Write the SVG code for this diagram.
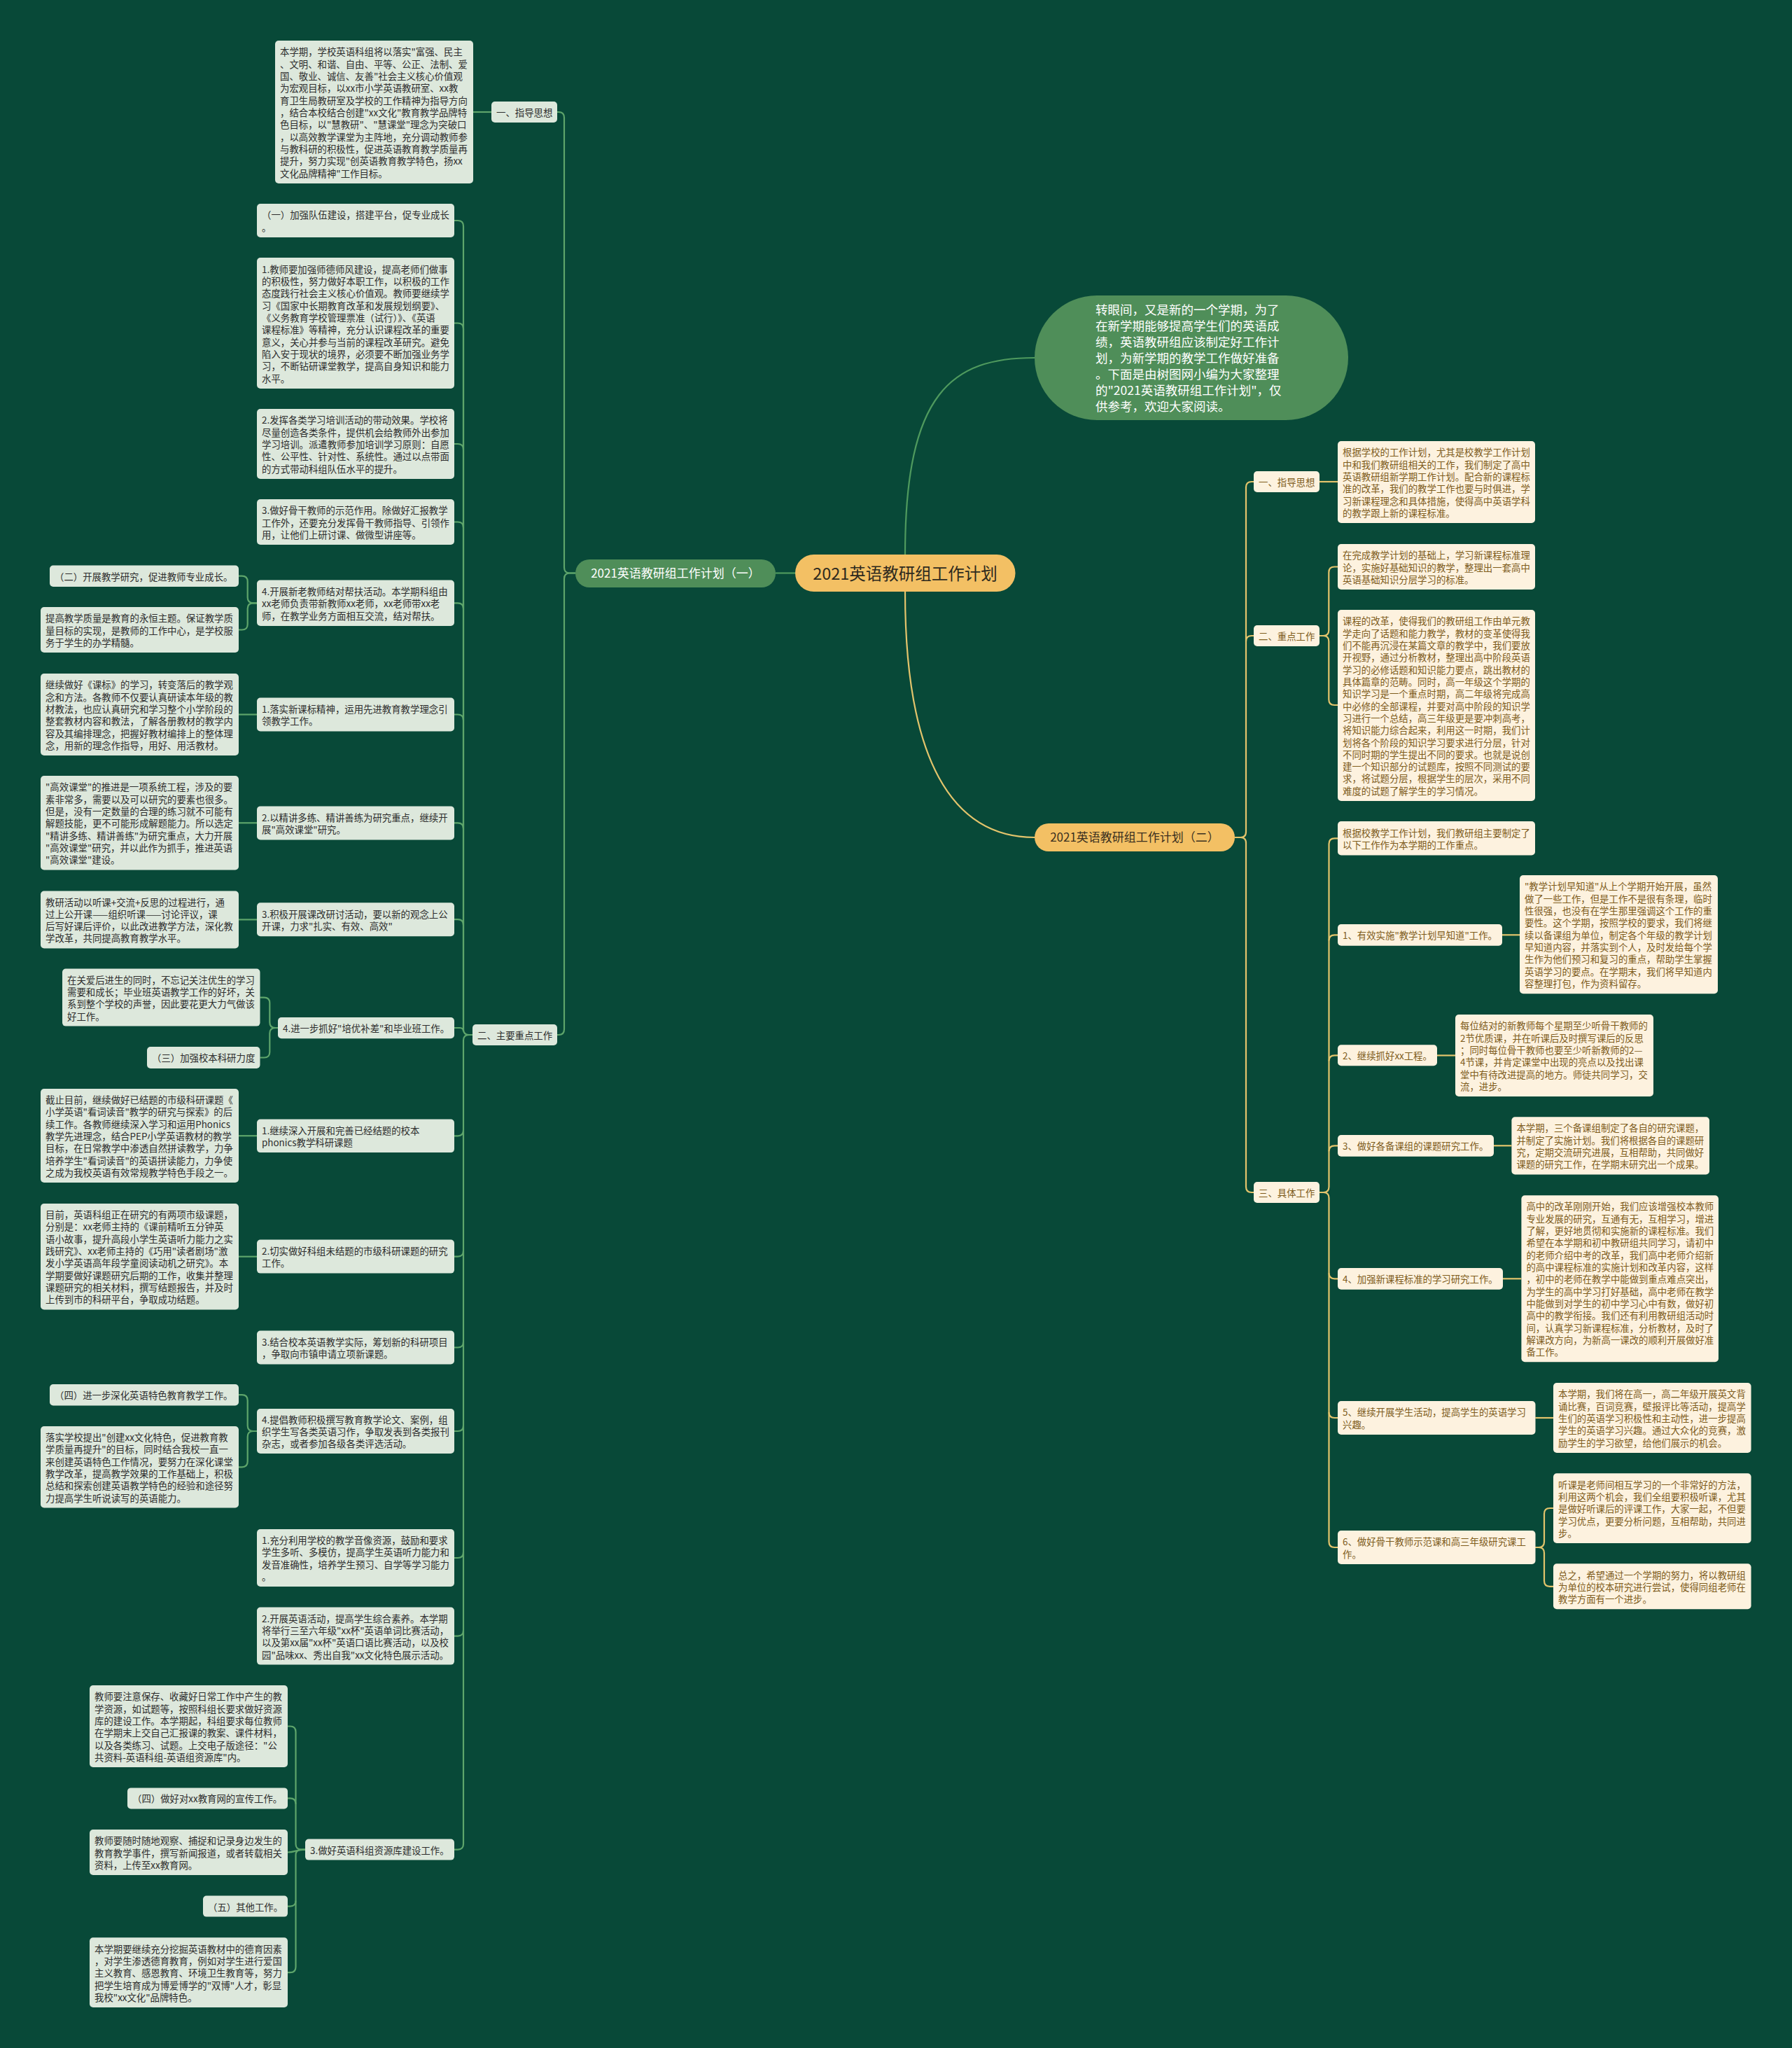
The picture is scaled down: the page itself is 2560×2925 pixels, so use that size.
<svg xmlns="http://www.w3.org/2000/svg" width="2560" height="2925" viewBox="0 0 2560 2925">
<style>
.bg{fill:#084938}
.bl{fill:#dde8dc}
.br{fill:#fdf2df}
text{font-family:"Noto Sans CJK SC","Noto Sans",sans-serif}
.tl{font-size:13.4px;fill:#2d2d2d}
.tr{font-size:13.4px;fill:#7e5c1c}
.cl{fill:none;stroke:#5ea56b;stroke-width:2.2}
.cr{fill:none;stroke:#e3c46c;stroke-width:2.2}
.cg{fill:none;stroke:#4f9a5e;stroke-width:2.2}
</style>
<rect class="bg" x="0" y="0" width="2560" height="2925"/>
<g id="connectors">
<path class="cg" d="M1108 818.5 L1136 818.5"/>
<path class="cg" d="M1293 792 C1293 560 1360 511 1478 511"/>
<path class="cr" d="M1293 845 C1293 1085 1360 1196 1478 1196"/>
<path class="cl" d="M796 160 L798 160 Q806 160 806 168 L806 810.5 Q806 818.5 814 818.5 L822 818.5"/>
<path class="cl" d="M796 1478 L798 1478 Q806 1478 806 1470 L806 826.5 Q806 818.5 814 818.5 L822 818.5"/>
<path class="cl" d="M676 160 L702 160"/>
<path class="cl" d="M649 315 L654 315 Q662 315 662 323 L662 1470 Q662 1478 670 1478 L675 1478"/>
<path class="cl" d="M649 461.5 L654 461.5 Q662 461.5 662 469.5 L662 1470"/>
<path class="cl" d="M649 634 L654 634 Q662 634 662 642"/>
<path class="cl" d="M649 745.5 L654 745.5 Q662 745.5 662 753.5"/>
<path class="cl" d="M649 861.3 L654 861.3 Q662 861.3 662 869.3"/>
<path class="cl" d="M649 1020.5 L654 1020.5 Q662 1020.5 662 1028.5"/>
<path class="cl" d="M649 1175.4 L654 1175.4 Q662 1175.4 662 1183.4"/>
<path class="cl" d="M649 1313.2 L654 1313.2 Q662 1313.2 662 1321.2"/>
<path class="cl" d="M649 1468 L657 1468 Q662 1468 662 1473"/>
<path class="cl" d="M649 2641.6 L654 2641.6 Q662 2641.6 662 2633.6 L662 1486 Q662 1478 670 1478 L675 1478"/>
<path class="cl" d="M649 1622.3 L654 1622.3 Q662 1622.3 662 1614.3"/>
<path class="cl" d="M649 1794.6 L654 1794.6 Q662 1794.6 662 1786.6"/>
<path class="cl" d="M649 1924.5 L654 1924.5 Q662 1924.5 662 1916.5"/>
<path class="cl" d="M649 2044 L654 2044 Q662 2044 662 2036"/>
<path class="cl" d="M649 2225 L654 2225 Q662 2225 662 2217"/>
<path class="cl" d="M649 2336.6 L654 2336.6 Q662 2336.6 662 2328.6"/>
<path class="cl" d="M341 822.7 L345.7 822.7 Q353.7 822.7 353.7 830.7 L353.7 853.3 Q353.7 861.3 361.7 861.3 L367 861.3"/>
<path class="cl" d="M341 899.5 L345.7 899.5 Q353.7 899.5 353.7 891.5 L353.7 869.3 Q353.7 861.3 361.7 861.3 L367 861.3"/>
<path class="cl" d="M341 1020.5 L367 1020.5"/>
<path class="cl" d="M341 1175.3 L367 1175.3"/>
<path class="cl" d="M341 1313.4 L367 1313.4"/>
<path class="cl" d="M341 1622.2 L367 1622.2"/>
<path class="cl" d="M341 1794.7 L367 1794.7"/>
<path class="cl" d="M371.5 1424.6 L377.3 1424.6 Q385.3 1424.6 385.3 1432.6 L385.3 1460 Q385.3 1468 393.3 1468 L397 1468"/>
<path class="cl" d="M371.5 1510.5 L377.3 1510.5 Q385.3 1510.5 385.3 1502.5 L385.3 1476 Q385.3 1468 393.3 1468 L397 1468"/>
<path class="cl" d="M341 1992.2 L345.7 1992.2 Q353.7 1992.2 353.7 2000.2 L353.7 2036 Q353.7 2044 361.7 2044 L367 2044"/>
<path class="cl" d="M341 2095.3 L345.7 2095.3 Q353.7 2095.3 353.7 2087.3 L353.7 2052 Q353.7 2044 361.7 2044 L367 2044"/>
<path class="cl" d="M411 2465.5 L414.5 2465.5 Q422.5 2465.5 422.5 2473.5 L422.5 2633.6 Q422.5 2641.6 430.5 2641.6 L436 2641.6"/>
<path class="cl" d="M411 2568.4 L414.5 2568.4 Q422.5 2568.4 422.5 2576.4"/>
<path class="cl" d="M411 2645.5 C422.5 2645.5 422.5 2641.6 436 2641.6"/>
<path class="cl" d="M411 2722.6 L414.5 2722.6 Q422.5 2722.6 422.5 2714.6"/>
<path class="cl" d="M411 2817.2 L414.5 2817.2 Q422.5 2817.2 422.5 2809.2 L422.5 2649.6 Q422.5 2641.6 430.5 2641.6 L436 2641.6"/>
<path class="cr" d="M1764 1196 L1772 1196 Q1780 1196 1780 1188 L1780 696 Q1780 688 1788 688 L1791 688"/>
<path class="cr" d="M1780 916 Q1780 908 1788 908 L1791 908"/>
<path class="cr" d="M1764 1196 L1772 1196 Q1780 1196 1780 1204 L1780 1695 Q1780 1703 1788 1703 L1791 1703"/>
<path class="cr" d="M1885 688 L1911 688"/>
<path class="cr" d="M1885 908 L1890.3 908 Q1898.3 908 1898.3 900 L1898.3 817.5 Q1898.3 809.5 1906.3 809.5 L1911 809.5"/>
<path class="cr" d="M1885 908 L1890.3 908 Q1898.3 908 1898.3 916 L1898.3 999 Q1898.3 1007 1906.3 1007 L1911 1007"/>
<path class="cr" d="M1885 1703 L1890.5 1703 Q1898.5 1703 1898.5 1695 L1898.5 1205.3 Q1898.5 1197.3 1906.5 1197.3 L1911 1197.3"/>
<path class="cr" d="M1898.5 1343.3 Q1898.5 1335.3 1906.5 1335.3 L1911 1335.3"/>
<path class="cr" d="M1898.5 1515.3 Q1898.5 1507.3 1906.5 1507.3 L1911 1507.3"/>
<path class="cr" d="M1898.5 1644.3 Q1898.5 1636.3 1906.5 1636.3 L1911 1636.3"/>
<path class="cr" d="M1885 1703 L1890.5 1703 Q1898.5 1703 1898.5 1711 L1898.5 2202 Q1898.5 2210 1906.5 2210 L1911 2210"/>
<path class="cr" d="M1898.5 1818.3 Q1898.5 1826.3 1906.5 1826.3 L1911 1826.3"/>
<path class="cr" d="M1898.5 2017 Q1898.5 2025 1906.5 2025 L1911 2025"/>
<path class="cr" d="M2146 1335.3 L2171 1335.3"/>
<path class="cr" d="M2053 1507.4 L2079 1507.4"/>
<path class="cr" d="M2134 1636.3 L2159.4 1636.3"/>
<path class="cr" d="M2147 1826.3 L2173.4 1826.3"/>
<path class="cr" d="M2193.4 2025 L2219 2025"/>
<path class="cr" d="M2193.4 2210 L2198 2210 Q2206 2210 2206 2202 L2206 2162 Q2206 2154 2214 2154 L2219 2154"/>
<path class="cr" d="M2193.4 2210 L2198 2210 Q2206 2210 2206 2218 L2206 2257.8 Q2206 2265.8 2214 2265.8 L2219 2265.8"/>
</g>
<g id="root">
<rect x="1136" y="792" width="314.5" height="53" rx="26.5" fill="#f3c064"/>
<text x="1293" y="828" text-anchor="middle" font-size="23.5" fill="#2e2a1e">2021英语教研组工作计划</text>
</g>
<g id="intro">
<rect x="1478" y="422" width="448" height="178" rx="89" fill="#4f8e59"/>
<text font-size="17.5" fill="#ffffff"><tspan x="1565" y="449.4">转眼间，又是新的一个学期，为了</tspan><tspan x="1565" dy="23">在新学期能够提高学生们的英语成</tspan><tspan x="1565" dy="23">绩，英语教研组应该制定好工作计</tspan><tspan x="1565" dy="23">划，为新学期的教学工作做好准备</tspan><tspan x="1565" dy="23">。下面是由树图网小编为大家整理</tspan><tspan x="1565" dy="23">的"2021英语教研组工作计划"，仅</tspan><tspan x="1565" dy="23">供参考，欢迎大家阅读。</tspan></text>
</g>
<g id="plan1">
<rect x="822" y="799" width="286" height="40" rx="20" fill="#4f8e59"/>
<text x="965" y="825" text-anchor="middle" font-size="17" fill="#ffffff">2021英语教研组工作计划（一）</text>
</g>
<g id="plan2">
<rect x="1478" y="1176" width="286" height="40" rx="20" fill="#f3c064"/>
<text x="1621" y="1202" text-anchor="middle" font-size="17" fill="#3b3020">2021英语教研组工作计划（二）</text>
</g>
<g id="l-guide-label"><rect class="bl" x="702" y="145" width="94" height="30" rx="5"/><text class="tl" x="709" y="165.5">一、指导思想</text></g>
<g id="l-guide-text"><rect class="bl" x="393" y="58" width="283" height="204" rx="5"/><text class="tl"><tspan x="400" y="79.4">本学期，学校英语科组将以落实"富强、民主</tspan><tspan x="400" dy="17.33">、文明、和谐、自由、平等、公正、法制、爱</tspan><tspan x="400" dy="17.33">国、敬业、诚信、友善"社会主义核心价值观</tspan><tspan x="400" dy="17.33">为宏观目标，以xx市小学英语教研室、xx教</tspan><tspan x="400" dy="17.33">育卫生局教研室及学校的工作精神为指导方向</tspan><tspan x="400" dy="17.33">，结合本校结合创建"xx文化"教育教学品牌特</tspan><tspan x="400" dy="17.33">色目标，以"慧教研"、"慧课堂"理念为突破口</tspan><tspan x="400" dy="17.33">，以高效教学课堂为主阵地，充分调动教师参</tspan><tspan x="400" dy="17.33">与教科研的积极性，促进英语教育教学质量再</tspan><tspan x="400" dy="17.33">提升，努力实现"创英语教育教学特色，扬xx</tspan><tspan x="400" dy="17.33">文化品牌精神"工作目标。</tspan></text></g>
<g id="l-main-label"><rect class="bl" x="675" y="1463" width="121" height="30" rx="5"/><text class="tl" x="682" y="1483.5">二、主要重点工作</text></g>
<g id="l-a"><rect class="bl" x="367" y="291" width="282" height="48" rx="5"/><text class="tl"><tspan x="374" y="312.4">（一）加强队伍建设，搭建平台，促专业成长</tspan><tspan x="374" dy="17.33">。</tspan></text></g>
<g id="l-b"><rect class="bl" x="367" y="368" width="282" height="187" rx="5"/><text class="tl"><tspan x="374" y="389.6">1.教师要加强师德师风建设，提高老师们做事</tspan><tspan x="374" dy="17.33">的积极性，努力做好本职工作，以积极的工作</tspan><tspan x="374" dy="17.33">态度践行社会主义核心价值观。教师要继续学</tspan><tspan x="374" dy="17.33">习《国家中长期教育改革和发展规划纲要》、</tspan><tspan x="374" dy="17.33">《义务教育学校管理票准（试行）》、《英语</tspan><tspan x="374" dy="17.33">课程标准》等精神，充分认识课程改革的重要</tspan><tspan x="374" dy="17.33">意义，关心并参与当前的课程改革研究。避免</tspan><tspan x="374" dy="17.33">陷入安于现状的境界，必须要不断加强业务学</tspan><tspan x="374" dy="17.33">习，不断钻研课堂教学，提高自身知识和能力</tspan><tspan x="374" dy="17.33">水平。</tspan></text></g>
<g id="l-c"><rect class="bl" x="367" y="584" width="282" height="100" rx="5"/><text class="tl"><tspan x="374" y="605.4">2.发挥各类学习培训活动的带动效果。学校将</tspan><tspan x="374" dy="17.33">尽量创造各类条件，提供机会给教师外出参加</tspan><tspan x="374" dy="17.33">学习培训。派遣教师参加培训学习原则：自愿</tspan><tspan x="374" dy="17.33">性、公平性、针对性、系统性。通过以点带面</tspan><tspan x="374" dy="17.33">的方式带动科组队伍水平的提升。</tspan></text></g>
<g id="l-d"><rect class="bl" x="367" y="713" width="282" height="65" rx="5"/><text class="tl"><tspan x="374" y="734.2">3.做好骨干教师的示范作用。除做好汇报教学</tspan><tspan x="374" dy="17.33">工作外，还要充分发挥骨干教师指导、引领作</tspan><tspan x="374" dy="17.33">用，让他们上研讨课、做微型讲座等。</tspan></text></g>
<g id="l-e"><rect class="bl" x="71" y="807.5" width="270" height="30.5" rx="5"/><text class="tl" x="78" y="828.8">（二）开展教学研究，促进教师专业成长。</text></g>
<g id="l-f"><rect class="bl" x="58" y="867" width="283" height="65" rx="5"/><text class="tl"><tspan x="65" y="888.2">提高教学质量是教育的永恒主题。保证教学质</tspan><tspan x="65" dy="17.33">量目标的实现，是教师的工作中心，是学校服</tspan><tspan x="65" dy="17.33">务于学生的办学精髓。</tspan></text></g>
<g id="l-g"><rect class="bl" x="367" y="828.6" width="282" height="65.4" rx="5"/><text class="tl"><tspan x="374" y="850">4.开展新老教师结对帮扶活动。本学期科组由</tspan><tspan x="374" dy="17.33">xx老师负责带新教师xx老师，xx老师带xx老</tspan><tspan x="374" dy="17.33">师，在教学业务方面相互交流，结对帮扶。</tspan></text></g>
<g id="l-h"><rect class="bl" x="58" y="962" width="283" height="117" rx="5"/><text class="tl"><tspan x="65" y="983.2">继续做好《课标》的学习，转变落后的教学观</tspan><tspan x="65" dy="17.33">念和方法。各教师不仅要认真研读本年级的教</tspan><tspan x="65" dy="17.33">材教法，也应认真研究和学习整个小学阶段的</tspan><tspan x="65" dy="17.33">整套教材内容和教法，了解各册教材的教学内</tspan><tspan x="65" dy="17.33">容及其编排理念，把握好教材编排上的整体理</tspan><tspan x="65" dy="17.33">念，用新的理念作指导，用好、用活教材。</tspan></text></g>
<g id="l-i"><rect class="bl" x="367" y="996.5" width="282" height="48" rx="5"/><text class="tl"><tspan x="374" y="1017.9">1.落实新课标精神，运用先进教育教学理念引</tspan><tspan x="374" dy="17.33">领教学工作。</tspan></text></g>
<g id="l-j"><rect class="bl" x="58" y="1108" width="283" height="134.5" rx="5"/><text class="tl"><tspan x="65" y="1129.3">"高效课堂"的推进是一项系统工程，涉及的要</tspan><tspan x="65" dy="17.33">素非常多，需要以及可以研究的要素也很多。</tspan><tspan x="65" dy="17.33">但是，没有一定数量的合理的练习就不可能有</tspan><tspan x="65" dy="17.33">解题技能，更不可能形成解题能力。所以选定</tspan><tspan x="65" dy="17.33">"精讲多练、精讲善练"为研究重点，大力开展</tspan><tspan x="65" dy="17.33">"高效课堂"研究，并以此作为抓手，推进英语</tspan><tspan x="65" dy="17.33">"高效课堂"建设。</tspan></text></g>
<g id="l-k"><rect class="bl" x="367" y="1151.4" width="282" height="48" rx="5"/><text class="tl"><tspan x="374" y="1172.8">2.以精讲多练、精讲善练为研究重点，继续开</tspan><tspan x="374" dy="17.33">展"高效课堂"研究。</tspan></text></g>
<g id="l-l"><rect class="bl" x="58" y="1272.5" width="283" height="82" rx="5"/><text class="tl"><tspan x="65" y="1293.5">教研活动以听课+交流+反思的过程进行，通</tspan><tspan x="65" dy="17.33">过上公开课——组织听课——讨论评议，课</tspan><tspan x="65" dy="17.33">后写好课后评价，以此改进教学方法，深化教</tspan><tspan x="65" dy="17.33">学改革，共同提高教育教学水平。</tspan></text></g>
<g id="l-m"><rect class="bl" x="367" y="1289.3" width="282" height="48" rx="5"/><text class="tl"><tspan x="374" y="1310.7">3.积极开展课改研讨活动，要以新的观念上公</tspan><tspan x="374" dy="17.33">开课，力求"扎实、有效、高效"</tspan></text></g>
<g id="l-n"><rect class="bl" x="89" y="1383.6" width="282.5" height="82" rx="5"/><text class="tl"><tspan x="96" y="1404.6">在关爱后进生的同时，不忘记关注优生的学习</tspan><tspan x="96" dy="17.33">需要和成长；毕业班英语教学工作的好坏，关</tspan><tspan x="96" dy="17.33">系到整个学校的声誉，因此要花更大力气做该</tspan><tspan x="96" dy="17.33">好工作。</tspan></text></g>
<g id="l-o"><rect class="bl" x="397" y="1453" width="252" height="30.3" rx="5"/><text class="tl" x="404" y="1474.2">4.进一步抓好"培优补差"和毕业班工作。</text></g>
<g id="l-p"><rect class="bl" x="210" y="1495" width="161.5" height="31" rx="5"/><text class="tl" x="217" y="1516.4">（三）加强校本科研力度</text></g>
<g id="l-q"><rect class="bl" x="58" y="1555" width="283" height="134" rx="5"/><text class="tl"><tspan x="65" y="1576">截止目前，继续做好已结题的市级科研课题《</tspan><tspan x="65" dy="17.33">小学英语"看词读音"教学的研究与探索》的后</tspan><tspan x="65" dy="17.33">续工作。各教师继续深入学习和运用Phonics</tspan><tspan x="65" dy="17.33">教学先进理念，结合PEP小学英语教材的教学</tspan><tspan x="65" dy="17.33">目标，在日常教学中渗透自然拼读教学，力争</tspan><tspan x="65" dy="17.33">培养学生"看词读音"的英语拼读能力，力争使</tspan><tspan x="65" dy="17.33">之成为我校英语有效常规教学特色手段之一。</tspan></text></g>
<g id="l-r"><rect class="bl" x="367" y="1598.6" width="282" height="47.5" rx="5"/><text class="tl"><tspan x="374" y="1619.8">1.继续深入开展和完善已经结题的校本</tspan><tspan x="374" dy="17.33">phonics教学科研课题</tspan></text></g>
<g id="l-s"><rect class="bl" x="58" y="1719" width="283" height="151.5" rx="5"/><text class="tl"><tspan x="65" y="1740.1">目前，英语科组正在研究的有两项市级课题，</tspan><tspan x="65" dy="17.33">分别是：xx老师主持的《课前精听五分钟英</tspan><tspan x="65" dy="17.33">语小故事，提升高段小学生英语听力能力之实</tspan><tspan x="65" dy="17.33">践研究》、xx老师主持的《巧用"读者剧场"激</tspan><tspan x="65" dy="17.33">发小学英语高年段学童阅读动机之研究》。本</tspan><tspan x="65" dy="17.33">学期要做好课题研究后期的工作，收集并整理</tspan><tspan x="65" dy="17.33">课题研究的相关材料，撰写结题报告，并及时</tspan><tspan x="65" dy="17.33">上传到市的科研平台，争取成功结题。</tspan></text></g>
<g id="l-t"><rect class="bl" x="367" y="1770.6" width="282" height="48" rx="5"/><text class="tl"><tspan x="374" y="1792">2.切实做好科组未结题的市级科研课题的研究</tspan><tspan x="374" dy="17.33">工作。</tspan></text></g>
<g id="l-u"><rect class="bl" x="367" y="1900.5" width="282" height="48" rx="5"/><text class="tl"><tspan x="374" y="1921.9">3.结合校本英语教学实际，筹划新的科研项目</tspan><tspan x="374" dy="17.33">，争取向市镇申请立项新课题。</tspan></text></g>
<g id="l-v"><rect class="bl" x="71" y="1977" width="270" height="30.4" rx="5"/><text class="tl" x="78" y="1998.3">（四）进一步深化英语特色教育教学工作。</text></g>
<g id="l-w"><rect class="bl" x="58" y="2037" width="283" height="116.5" rx="5"/><text class="tl"><tspan x="65" y="2058">落实学校提出"创建xx文化特色，促进教育教</tspan><tspan x="65" dy="17.33">学质量再提升"的目标，同时结合我校一直一</tspan><tspan x="65" dy="17.33">来创建英语特色工作情况，要努力在深化课堂</tspan><tspan x="65" dy="17.33">教学改革，提高教学效果的工作基础上，积极</tspan><tspan x="65" dy="17.33">总结和探索创建英语教学特色的经验和途径努</tspan><tspan x="65" dy="17.33">力提高学生听说读写的英语能力。</tspan></text></g>
<g id="l-x"><rect class="bl" x="367" y="2012" width="282" height="64" rx="5"/><text class="tl"><tspan x="374" y="2032.7">4.提倡教师积极撰写教育教学论文、案例，组</tspan><tspan x="374" dy="17.33">织学生写各类英语习作，争取发表到各类报刊</tspan><tspan x="374" dy="17.33">杂志，或者参加各级各类评选活动。</tspan></text></g>
<g id="l-y"><rect class="bl" x="367" y="2184" width="282" height="82" rx="5"/><text class="tl"><tspan x="374" y="2205">1.充分利用学校的教学音像资源，鼓励和要求</tspan><tspan x="374" dy="17.33">学生多听、多模仿，提高学生英语听力能力和</tspan><tspan x="374" dy="17.33">发音准确性，培养学生预习、自学等学习能力</tspan><tspan x="374" dy="17.33">。</tspan></text></g>
<g id="l-z"><rect class="bl" x="367" y="2295.6" width="282" height="82" rx="5"/><text class="tl"><tspan x="374" y="2316.6">2.开展英语活动，提高学生综合素养。本学期</tspan><tspan x="374" dy="17.33">将举行三至六年级"xx杯"英语单词比赛活动，</tspan><tspan x="374" dy="17.33">以及第xx届"xx杯"英语口语比赛活动，以及校</tspan><tspan x="374" dy="17.33">园"品味xx、秀出自我"xx文化特色展示活动。</tspan></text></g>
<g id="l-aa"><rect class="bl" x="128" y="2407" width="283" height="117" rx="5"/><text class="tl"><tspan x="135" y="2428.2">教师要注意保存、收藏好日常工作中产生的教</tspan><tspan x="135" dy="17.33">学资源，如试题等，按照科组长要求做好资源</tspan><tspan x="135" dy="17.33">库的建设工作。本学期起，科组要求每位教师</tspan><tspan x="135" dy="17.33">在学期末上交自己汇报课的教案、课件材料，</tspan><tspan x="135" dy="17.33">以及各类练习、试题。上交电子版途径："公</tspan><tspan x="135" dy="17.33">共资料-英语科组-英语组资源库"内。</tspan></text></g>
<g id="l-ab"><rect class="bl" x="182" y="2553.4" width="229" height="30" rx="5"/><text class="tl" x="189" y="2574.4">（四）做好对xx教育网的宣传工作。</text></g>
<g id="l-ac"><rect class="bl" x="128" y="2613" width="283" height="65" rx="5"/><text class="tl"><tspan x="135" y="2634.2">教师要随时随地观察、捕捉和记录身边发生的</tspan><tspan x="135" dy="17.33">教育教学事件，撰写新闻报道，或者转载相关</tspan><tspan x="135" dy="17.33">资料，上传至xx教育网。</tspan></text></g>
<g id="l-ad"><rect class="bl" x="290" y="2707.6" width="121" height="30" rx="5"/><text class="tl" x="297" y="2728.6">（五）其他工作。</text></g>
<g id="l-ae"><rect class="bl" x="128" y="2767.3" width="283" height="99.7" rx="5"/><text class="tl"><tspan x="135" y="2788.6">本学期要继续充分挖掘英语教材中的德育因素</tspan><tspan x="135" dy="17.33">，对学生渗透德育教育，例如对学生进行爱国</tspan><tspan x="135" dy="17.33">主义教育、感恩教育、环境卫生教育等，努力</tspan><tspan x="135" dy="17.33">把学生培育成为博爱博学的"双博"人才，彰显</tspan><tspan x="135" dy="17.33">我校"xx文化"品牌特色。</tspan></text></g>
<g id="l-af"><rect class="bl" x="436" y="2626.6" width="213" height="30" rx="5"/><text class="tl" x="443" y="2647.6">3.做好英语科组资源库建设工作。</text></g>
<g id="r-label1"><rect class="br" x="1791" y="673" width="94" height="30" rx="5"/><text class="tr" x="1798" y="693.5">一、指导思想</text></g>
<g id="r-label2"><rect class="br" x="1791" y="893" width="94" height="30" rx="5"/><text class="tr" x="1798" y="913.5">二、重点工作</text></g>
<g id="r-label3"><rect class="br" x="1791" y="1688" width="94" height="30" rx="5"/><text class="tr" x="1798" y="1708.5">三、具体工作</text></g>
<g id="r-1"><rect class="br" x="1911" y="630" width="282" height="117" rx="5"/><text class="tr"><tspan x="1918" y="651.2">根据学校的工作计划，尤其是校教学工作计划</tspan><tspan x="1918" dy="17.33">中和我们教研组相关的工作，我们制定了高中</tspan><tspan x="1918" dy="17.33">英语教研组新学期工作计划。配合新的课程标</tspan><tspan x="1918" dy="17.33">准的改革，我们的教学工作也要与时俱进，学</tspan><tspan x="1918" dy="17.33">习新课程理念和具体措施，使得高中英语学科</tspan><tspan x="1918" dy="17.33">的教学跟上新的课程标准。</tspan></text></g>
<g id="r-2"><rect class="br" x="1911" y="777" width="282" height="65" rx="5"/><text class="tr"><tspan x="1918" y="798.2">在完成教学计划的基础上，学习新课程标准理</tspan><tspan x="1918" dy="17.33">论，实施好基础知识的教学，整理出一套高中</tspan><tspan x="1918" dy="17.33">英语基础知识分层学习的标准。</tspan></text></g>
<g id="r-3"><rect class="br" x="1911" y="871" width="282" height="273" rx="5"/><text class="tr"><tspan x="1918" y="892.2">课程的改革，使得我们的教研组工作由单元教</tspan><tspan x="1918" dy="17.33">学走向了话题和能力教学，教材的变革使得我</tspan><tspan x="1918" dy="17.33">们不能再沉浸在某篇文章的教学中，我们要放</tspan><tspan x="1918" dy="17.33">开视野，通过分析教材，整理出高中阶段英语</tspan><tspan x="1918" dy="17.33">学习的必修话题和知识能力要点，跳出教材的</tspan><tspan x="1918" dy="17.33">具体篇章的范畴。同时，高一年级这个学期的</tspan><tspan x="1918" dy="17.33">知识学习是一个重点时期，高二年级将完成高</tspan><tspan x="1918" dy="17.33">中必修的全部课程，并要对高中阶段的知识学</tspan><tspan x="1918" dy="17.33">习进行一个总结，高三年级更是要冲刺高考，</tspan><tspan x="1918" dy="17.33">将知识能力综合起来，利用这一时期，我们计</tspan><tspan x="1918" dy="17.33">划将各个阶段的知识学习要求进行分层，针对</tspan><tspan x="1918" dy="17.33">不同时期的学生提出不同的要求。也就是说创</tspan><tspan x="1918" dy="17.33">建一个知识部分的试题库，按照不同测试的要</tspan><tspan x="1918" dy="17.33">求，将试题分层，根据学生的层次，采用不同</tspan><tspan x="1918" dy="17.33">难度的试题了解学生的学习情况。</tspan></text></g>
<g id="r-4"><rect class="br" x="1911" y="1173" width="282" height="48.5" rx="5"/><text class="tr"><tspan x="1918" y="1194.6">根据校教学工作计划，我们教研组主要制定了</tspan><tspan x="1918" dy="17.33">以下工作作为本学期的工作重点。</tspan></text></g>
<g id="r-5"><rect class="br" x="1911" y="1320" width="235" height="30.7" rx="5"/><text class="tr" x="1918" y="1341">1、有效实施"教学计划早知道"工作。</text></g>
<g id="r-6"><rect class="br" x="2171" y="1250" width="283" height="169.3" rx="5"/><text class="tr"><tspan x="2178" y="1271.4">"教学计划早知道"从上个学期开始开展，虽然</tspan><tspan x="2178" dy="17.33">做了一些工作，但是工作不是很有条理，临时</tspan><tspan x="2178" dy="17.33">性很强，也没有在学生那里强调这个工作的重</tspan><tspan x="2178" dy="17.33">要性。这个学期，按照学校的要求，我们将继</tspan><tspan x="2178" dy="17.33">续以备课组为单位，制定各个年级的教学计划</tspan><tspan x="2178" dy="17.33">早知道内容，并落实到个人，及时发给每个学</tspan><tspan x="2178" dy="17.33">生作为他们预习和复习的重点，帮助学生掌握</tspan><tspan x="2178" dy="17.33">英语学习的要点。在学期末，我们将早知道内</tspan><tspan x="2178" dy="17.33">容整理打包，作为资料留存。</tspan></text></g>
<g id="r-7"><rect class="br" x="1911" y="1492.3" width="142" height="30" rx="5"/><text class="tr" x="1918" y="1513.3">2、继续抓好xx工程。</text></g>
<g id="r-8"><rect class="br" x="2079" y="1449" width="283" height="117" rx="5"/><text class="tr"><tspan x="2086" y="1470.2">每位结对的新教师每个星期至少听骨干教师的</tspan><tspan x="2086" dy="17.33">2节优质课，并在听课后及时撰写课后的反思</tspan><tspan x="2086" dy="17.33">；同时每位骨干教师也要至少听新教师的2—</tspan><tspan x="2086" dy="17.33">4节课，并肯定课堂中出现的亮点以及找出课</tspan><tspan x="2086" dy="17.33">堂中有待改进提高的地方。师徒共同学习，交</tspan><tspan x="2086" dy="17.33">流，进步。</tspan></text></g>
<g id="r-9"><rect class="br" x="1911" y="1621" width="223" height="30.7" rx="5"/><text class="tr" x="1918" y="1642">3、做好各备课组的课题研究工作。</text></g>
<g id="r-10"><rect class="br" x="2159.4" y="1595.2" width="282.6" height="82.3" rx="5"/><text class="tr"><tspan x="2166.4" y="1616.4">本学期，三个备课组制定了各自的研究课题，</tspan><tspan x="2166.4" dy="17.33">并制定了实施计划。我们将根据各自的课题研</tspan><tspan x="2166.4" dy="17.33">究，定期交流研究进展，互相帮助，共同做好</tspan><tspan x="2166.4" dy="17.33">课题的研究工作，在学期末研究出一个成果。</tspan></text></g>
<g id="r-11"><rect class="br" x="1911" y="1811" width="236" height="30.7" rx="5"/><text class="tr" x="1918" y="1832">4、加强新课程标准的学习研究工作。</text></g>
<g id="r-12"><rect class="br" x="2173.4" y="1707.3" width="281.6" height="238" rx="5"/><text class="tr"><tspan x="2180.4" y="1728.4">高中的改革刚刚开始，我们应该增强校本教师</tspan><tspan x="2180.4" dy="17.33">专业发展的研究，互通有无，互相学习，增进</tspan><tspan x="2180.4" dy="17.33">了解，更好地贯彻和实施新的课程标准。我们</tspan><tspan x="2180.4" dy="17.33">希望在本学期和初中教研组共同学习，请初中</tspan><tspan x="2180.4" dy="17.33">的老师介绍中考的改革，我们高中老师介绍新</tspan><tspan x="2180.4" dy="17.33">的高中课程标准的实施计划和改革内容，这样</tspan><tspan x="2180.4" dy="17.33">，初中的老师在教学中能做到重点难点突出，</tspan><tspan x="2180.4" dy="17.33">为学生的高中学习打好基础，高中老师在教学</tspan><tspan x="2180.4" dy="17.33">中能做到对学生的初中学习心中有数，做好初</tspan><tspan x="2180.4" dy="17.33">高中的教学衔接。我们还有利用教研组活动时</tspan><tspan x="2180.4" dy="17.33">间，认真学习新课程标准，分析教材，及时了</tspan><tspan x="2180.4" dy="17.33">解课改方向，为新高一课改的顺利开展做好准</tspan><tspan x="2180.4" dy="17.33">备工作。</tspan></text></g>
<g id="r-13"><rect class="br" x="1911" y="2001" width="282.5" height="48" rx="5"/><text class="tr"><tspan x="1918" y="2022.4">5、继续开展学生活动，提高学生的英语学习</tspan><tspan x="1918" dy="17.33">兴趣。</tspan></text></g>
<g id="r-14"><rect class="br" x="2219" y="1975" width="282.6" height="100" rx="5"/><text class="tr"><tspan x="2226" y="1996.4">本学期，我们将在高一，高二年级开展英文背</tspan><tspan x="2226" dy="17.33">诵比赛，百词竞赛，壁报评比等活动，提高学</tspan><tspan x="2226" dy="17.33">生们的英语学习积极性和主动性，进一步提高</tspan><tspan x="2226" dy="17.33">学生的英语学习兴趣。通过大众化的竞赛，激</tspan><tspan x="2226" dy="17.33">励学生的学习欲望，给他们展示的机会。</tspan></text></g>
<g id="r-15"><rect class="br" x="1911" y="2186" width="282.5" height="48" rx="5"/><text class="tr"><tspan x="1918" y="2207.4">6、做好骨干教师示范课和高三年级研究课工</tspan><tspan x="1918" dy="17.33">作。</tspan></text></g>
<g id="r-16"><rect class="br" x="2219" y="2104.3" width="282.6" height="99.7" rx="5"/><text class="tr"><tspan x="2226" y="2125.7">听课是老师间相互学习的一个非常好的方法，</tspan><tspan x="2226" dy="17.33">利用这两个机会，我们全组要积极听课，尤其</tspan><tspan x="2226" dy="17.33">是做好听课后的评课工作，大家一起，不但要</tspan><tspan x="2226" dy="17.33">学习优点，更要分析问题，互相帮助，共同进</tspan><tspan x="2226" dy="17.33">步。</tspan></text></g>
<g id="r-17"><rect class="br" x="2219" y="2233.3" width="282.6" height="65" rx="5"/><text class="tr"><tspan x="2226" y="2254.5">总之，希望通过一个学期的努力，将以教研组</tspan><tspan x="2226" dy="17.33">为单位的校本研究进行尝试，使得同组老师在</tspan><tspan x="2226" dy="17.33">教学方面有一个进步。</tspan></text></g>
</svg>
